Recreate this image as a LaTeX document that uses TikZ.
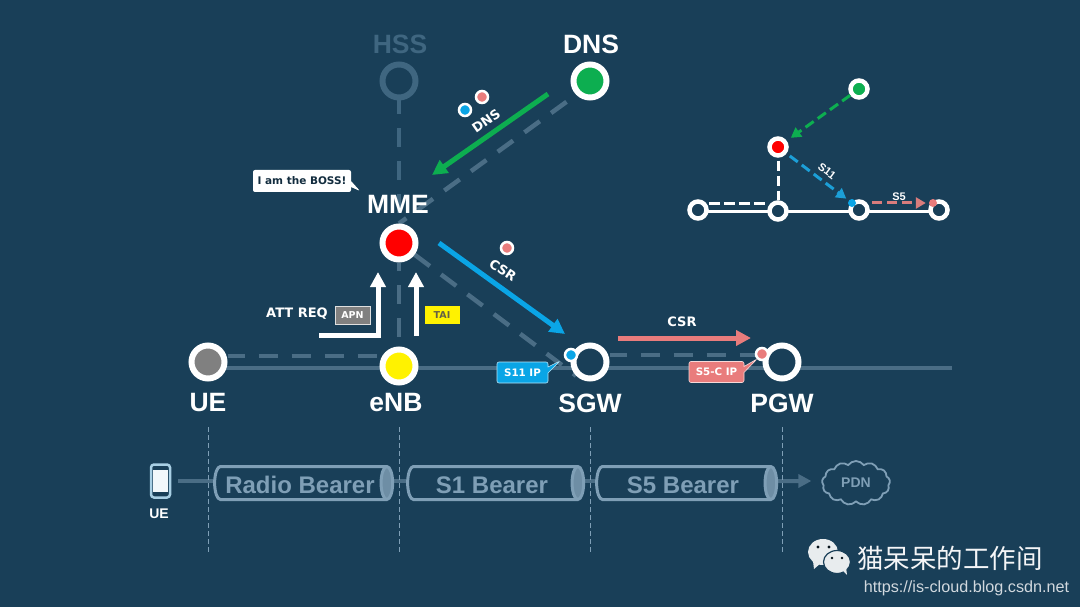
\documentclass[tikz,border=0pt]{standalone}
\usepackage{fontspec}
\setmainfont{Liberation Sans}
\newfontfamily\verdanafont{DejaVu Sans}
\newfontfamily\cjkfont{Noto Sans CJK SC}
\usepackage{xcolor}
\usetikzlibrary{arrows.meta, shapes.geometric, shapes.callouts, shapes.symbols, backgrounds}

\definecolor{bgblue}{HTML}{193F58}
\definecolor{linegray}{HTML}{4A6D85}
\definecolor{dimblue}{HTML}{3F6680}
\definecolor{tubeblue}{HTML}{7F9FB6}
\definecolor{tubeend}{HTML}{6E8EA5}
\definecolor{netgreen}{HTML}{0DAE50}
\definecolor{skyblue}{HTML}{0AA5E6}
\definecolor{salmon}{HTML}{E97C7C}
\definecolor{phoneblue}{HTML}{A8CFE4}

\begin{document}
\begin{tikzpicture}[
  x=1pt, y=-1pt,
  >=Latex,
  entity/.style={circle, draw=white, line width=6pt, minimum size=33pt, inner sep=0pt, fill=bgblue},
  title/.style={inner sep=0pt, text=white, font=\fontsize{26.5}{28}\selectfont\bfseries},
  msg/.style={inner sep=0pt, text=white, font=\verdanafont\fontsize{13}{15}\selectfont\bfseries},
  tag/.style={inner sep=0pt, minimum width=35pt, minimum height=18pt, font=\verdanafont\fontsize{9.5}{11}\selectfont\bfseries},
  ipbox/.style={rectangle callout, rounded corners=2pt, draw=white!70!skyblue, line width=.6pt, inner sep=0pt, text=white, minimum height=21pt, callout pointer width=6pt, font=\verdanafont\fontsize{10.3}{12}\selectfont\bfseries},
  ipdot/.style={circle, draw=white, line width=2.5pt, minimum size=12pt, inner sep=0pt},
  dashline/.style={linegray, line width=4.5pt, dash pattern=on 19pt off 14pt},
  busline/.style={linegray, line width=4pt},
  flow/.style={-{Triangle[length=15pt, width=15pt]}, line width=5pt},
  guide/.style={tubeblue, line width=.8pt, dash pattern=on 5pt off 3pt},
  tube/.style={cylinder, draw=tubeblue, line width=3pt, minimum width=33pt, aspect=.55, inner sep=0pt, text height=21pt, text depth=0pt, cylinder uses custom fill, cylinder end fill=tubeend, cylinder body fill=bgblue, text=tubeblue, font=\fontsize{24}{26}\selectfont\bfseries},
  pipe/.style={linegray, line width=4pt},
  ring/.style={circle, draw=white, line width=4.5pt, minimum size=17pt, inner sep=0pt, fill=bgblue},
  minidash/.style={line width=3pt, dash pattern=on 10pt off 5pt},
  minitip/.style={-{Triangle[length=10pt, width=11pt]}},
  minilabel/.style={inner sep=0pt, text=white, font=\fontsize{11}{13}\selectfont\bfseries}
]
  \useasboundingbox (0,0) rectangle (1080,607);

  % Entities
  \node[entity, draw=dimblue] (hss) at (399,81) {};
  \node[entity, fill=netgreen] (dns) at (590,81) {};
  \node[entity, fill=red] (mme) at (399,243) {};
  \node[entity, fill=gray] (ue) at (208,362) {};
  \node[entity, fill=yellow] (enb) at (399,366) {};
  \node[entity] (sgw) at (590,362) {};
  \node[entity] (pgw) at (782,362) {};
  \coordinate (busend) at (952,368);

  % Entity titles
  \node[title, text=dimblue] (hsstitle) at (400,44) {HSS};
  \node[title] (dnstitle) at (591,44) {DNS};
  \node[title] (mmetitle) at (398,204) {MME};
  \node[title] (uetitle) at (208,403) {UE};
  \node[title] (enbtitle) at (396,403) {eNB};
  \node[title] (sgwtitle) at (590,403) {SGW};
  \node[title] (pgwtitle) at (782,403) {PGW};

  % Free ends of the arrows
  \coordinate (dnsfrom) at (548,94);
  \coordinate (dnsto) at (432,175);
  \coordinate (csrfrom) at (439,243);
  \coordinate (csrto) at (565,334);
  \coordinate (s5from) at (618,338);
  \coordinate (s5to) at (751,338);
  \coordinate (attfrom) at (319,335);
  \coordinate (attto) at (378,272);
  \coordinate (taifrom) at (416,336);
  \coordinate (taito) at (416,272);

  % Background and interfaces
  \begin{pgfonlayer}{background}
    \fill[bgblue] (0,0) rectangle (1080,607);
    \draw[busline] (ue.center |- busend) -- (busend);
    \draw[dashline, dash phase=5pt, dimblue] (hss) -- (mme);
    \draw[dashline, dash phase=10.5pt] (mme) -- (enb);
    \draw[dashline, dash phase=-12pt] (dns.south west) -- (mme.north);
    \draw[dashline] (mme) -- (sgw.south west);
    \draw[dashline, dash phase=2pt] ([yshift=6pt]ue.east) -- ([yshift=10pt]enb.west);
    \draw[dashline, dash phase=2pt] ([yshift=7pt]sgw.east) -- ([yshift=7pt]pgw.west);
  \end{pgfonlayer}

  % Signalling arrows
  \draw[flow, netgreen] (dnsfrom) -- (dnsto);
  \draw[flow, skyblue] (csrfrom) -- (csrto);
  \draw[flow, salmon] (s5from) -- (s5to);
  \draw[flow, white] (attfrom) -| (attto);
  \draw[flow, white] (taifrom) -- (taito);

  % Signalling labels
  \node[msg, rotate=35] (dnsmsg) at (486,121) {DNS};
  \node[msg, rotate=-33] (csrmsg) at (503,270) {CSR};
  \node[msg] (s5msg) at (682,322) {CSR};
  \node[msg] (attmsg) at (297,314) {ATT REQ};
  \node[tag, fill=gray, draw=white!75!gray, line width=.6pt, text=white] (apn) at (352.5,315) {APN};
  \node[tag, fill=yellow, text=black!70!yellow] (tai) at (442,315) {TAI};
  \node[rectangle callout, fill=white, rounded corners=2pt, inner sep=0pt, minimum width=98pt, minimum height=22pt, callout pointer width=6pt, text=bgblue!70!black, callout absolute pointer={(360,191)}, font=\verdanafont\fontsize{10.5}{12}\selectfont\bfseries] (boss) at (302,181) {I am the BOSS!};

  % Address dots
  \node[ipdot, fill=skyblue] (blueip) at (465,110) {};
  \node[ipdot, fill=salmon] (pinkip) at (482,97) {};
  \node[ipdot, fill=salmon] (csrip) at (507,248) {};
  \node[ipdot, fill=skyblue] (sgwip) at (571,355) {};
  \node[ipdot, fill=salmon] (pgwip) at (762,354) {};
  \node[ipbox, fill=skyblue, minimum width=51pt, callout absolute pointer={(560,361)}] (s11box) at (522.5,372.5) {S11 IP};
  \node[ipbox, fill=salmon, draw=white!70!salmon, minimum width=55pt, callout absolute pointer={(757,359)}] (s5box) at (716.5,372) {S5-C IP};

  % Small overview
  \node[ring, fill=netgreen] (minidns) at (859,89) {};
  \node[ring, fill=red] (minimme) at (778,147) {};
  \node[ring] (miniue) at (698,210) {};
  \node[ring] (minienb) at (778,211) {};
  \node[ring] (minisgw) at (859,210) {};
  \node[ring] (minipgw) at (939,210) {};
  \begin{pgfonlayer}{background}
    \draw[white, line width=3pt] ([yshift=-2pt]miniue.center) -- ([yshift=-2pt]minipgw.center);
  \end{pgfonlayer}
  \draw[white, minidash, dash pattern=on 11pt off 4pt] ([yshift=6pt]miniue.east) -- ([yshift=7pt]minienb.west);
  \draw[white, minidash, dash phase=-3pt] (minimme) -- (minienb);
  \draw[netgreen, minidash, minitip, shorten >=5pt] (minidns) -- (minimme);
  \node[circle, fill=skyblue, inner sep=0pt, minimum size=8pt] (miniblue) at (852,203) {};
  \node[circle, fill=salmon, inner sep=0pt, minimum size=8pt] (minipink) at (933,203) {};
  \draw[skyblue!85!gray, minidash, minitip, shorten <=4pt, shorten >=3pt] (minimme) -- (miniblue);
  \draw[salmon!85!gray, minidash, minitip, shorten <=16pt, shorten >=3pt] (miniblue) -- (minipink);
  \node[minilabel, rotate=-37] (minis11) at (827,171) {S11};
  \node[minilabel] (minis5) at (899,197) {S5};

  % Bearers
  \node[tube, minimum height=178pt] (radio) at (300,483) {Radio Bearer};
  \node[tube, minimum height=176pt] (s1) at (492,483) {S1 Bearer};
  \node[tube, minimum height=180pt] (s5) at (683,483) {S5 Bearer};
  \node[cloud, cloud puffs=13, cloud puff arc=110, aspect=1.6, draw=tubeblue, line width=1.8pt, minimum width=68pt, minimum height=44pt, inner sep=0pt, text=tubeblue, font=\fontsize{14}{16}\selectfont\bfseries] (pdn) at (856,483) {PDN};

  % Phone
  \node[draw=phoneblue, line width=2.5pt, rounded corners=3pt, fill=bgblue, minimum width=19pt, minimum height=33pt, inner sep=0pt] (phone) at (160.5,481) {};
  \node[fill=white!85!phoneblue, minimum width=15pt, minimum height=22pt, inner sep=0pt] (screen) at (160.5,481) {};
  \node[inner sep=0pt, text=white, font=\fontsize{14}{16}\selectfont\bfseries] (phonelabel) at (159,514) {UE};

  \begin{pgfonlayer}{background}
    \draw[pipe] ([xshift=7pt]phone.east) -- ([yshift=2pt]radio.center);
    \draw[pipe] ([yshift=2pt]radio.center) -- ([yshift=2pt]s1.center);
    \draw[pipe] ([yshift=2pt]s1.center) -- ([yshift=2pt]s5.center);
    \draw[pipe, -{Triangle[length=13pt, width=13pt]}] ([yshift=2pt]s5.center) -- ([yshift=2pt, xshift=-10pt]pdn.west);
  \end{pgfonlayer}

  % Guides down from the titles
  \coordinate (guideue) at (208,552);
  \coordinate (guideenb) at (399,552);
  \coordinate (guidesgw) at (590,552);
  \coordinate (guidepgw) at (782,552);
  \draw[guide] (guideue |- 0,427) -- (guideue);
  \draw[guide] (guideenb |- 0,427) -- (guideenb);
  \draw[guide] (guidesgw |- 0,427) -- (guidesgw);
  \draw[guide] (guidepgw |- 0,427) -- (guidepgw);

  % Watermark
  \fill[white!90!bgblue] (823,552) ellipse (15 and 13);
  \fill[white!90!bgblue] (813,561) -- (814,569) -- (821,563) -- cycle;
  \draw[bgblue, line width=1.2pt, fill=white!90!bgblue] (837,562) ellipse (13.5 and 11.5);
  \fill[white!90!bgblue] (842,570) -- (847,575) -- (846,567) -- cycle;
  \fill[black!70!bgblue] (818,547) circle (1.7) (829,547) circle (1.7) (832,558) circle (1.4) (842,558) circle (1.4);
  \node[inner sep=0pt, text=white!95!bgblue, font=\cjkfont\fontsize{26.5}{28}\selectfont] (brand) at (950,558) {猫呆呆的工作间};
  \node[inner sep=0pt, text=white!80!bgblue, font=\fontsize{16.2}{18}\selectfont] (site) at (966.5,588) {https://is-cloud.blog.csdn.net};
\end{tikzpicture}
\end{document}
